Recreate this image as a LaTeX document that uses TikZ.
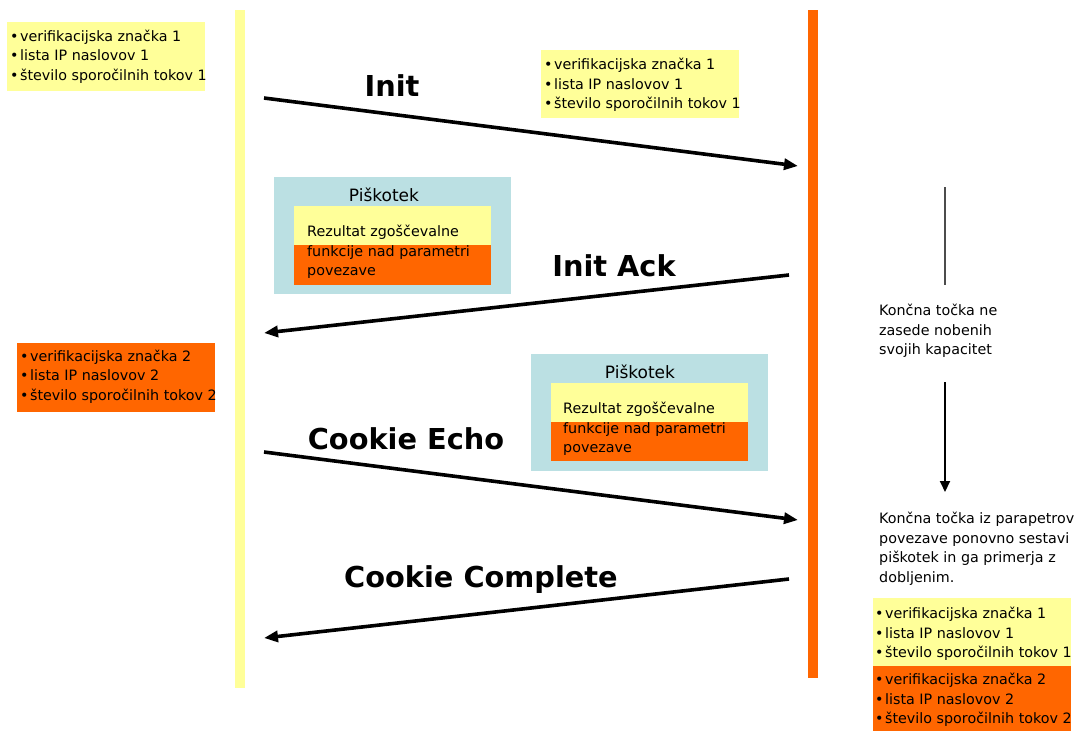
\documentclass[tikz,border=0pt]{standalone}
\usepackage{fontspec}
\setmainfont{DejaVu Sans}
\usetikzlibrary{arrows.meta}
\definecolor{paleyellow}{HTML}{FFFF99}
\definecolor{signalorange}{HTML}{FF6600}
\definecolor{cookieblue}{HTML}{BBE0E3}
\newcommand{\itm}{•\hspace{1.5pt}}
\begin{document}
\begin{tikzpicture}[x=1pt,y=-1pt,
  panel/.style={inner sep=0pt, outer sep=0pt, anchor=north west},
  listtext/.style={inner sep=0pt, anchor=north west, align=left,
    font=\fontsize{14.3}{19.5}\selectfont},
  msg/.style={line width=3.6pt, -{Triangle[length=14pt,width=11pt]}},
  msglabel/.style={inner sep=0pt, font=\bfseries\fontsize{28.8}{32}\selectfont},
  cookietitle/.style={inner sep=0pt, font=\fontsize{17}{20}\selectfont},
  note/.style={inner sep=0pt, anchor=north west, align=left,
    font=\fontsize{14.3}{19.5}\selectfont}
]
\useasboundingbox (0,0) rectangle (1082,731);

% lifelines of the two endpoints
\node[panel, fill=paleyellow, minimum width=10pt, minimum height=678pt] (hostA) at (235,10) {};
\node[panel, fill=signalorange, minimum width=10pt, minimum height=668pt] (hostB) at (808,10) {};

% parameter lists
\node[panel, fill=paleyellow, minimum width=198pt, minimum height=69pt] (listA1) at (7,22) {};
\node[listtext] (listA1t) at (10,29.5) {\itm verifikacijska značka 1\\\itm lista IP naslovov 1\\\itm število sporočilnih tokov 1};

\node[panel, fill=paleyellow, minimum width=198pt, minimum height=68pt] (listB1) at (541,50) {};
\node[listtext] (listB1t) at (544,58) {\itm verifikacijska značka 1\\\itm lista IP naslovov 1\\\itm število sporočilnih tokov 1};

\node[panel, fill=signalorange, minimum width=198pt, minimum height=69pt] (listA2) at (17,343) {};
\node[listtext] (listA2t) at (20,349.5) {\itm verifikacijska značka 2\\\itm lista IP naslovov 2\\\itm število sporočilnih tokov 2};

\node[panel, fill=paleyellow, minimum width=198pt, minimum height=68pt] (listC1) at (873,598) {};
\node[panel, fill=signalorange, minimum width=198pt, minimum height=65pt] (listC2) at (873,666) {};
\node[listtext] (listC1t) at (875,607) {\itm verifikacijska značka 1\\\itm lista IP naslovov 1\\\itm število sporočilnih tokov 1};
\node[listtext] (listC2t) at (875,673) {\itm verifikacijska značka 2\\\itm lista IP naslovov 2\\\itm število sporočilnih tokov 2};

% cookie from Init Ack
\node[panel, fill=cookieblue, minimum width=237pt, minimum height=117pt] (cookieA) at (274,177) {};
\node[cookietitle] (cookieAt) at (384,195) {Piškotek};
\node[panel, fill=paleyellow, minimum width=197pt, minimum height=39pt] (hashAy) at (294,206) {};
\node[panel, fill=signalorange, minimum width=197pt, minimum height=40pt] (hashAo) at (294,245) {};
\node[listtext] (hashAt) at (307,225) {Rezultat zgoščevalne\\funkcije nad parametri\\povezave};

% cookie from Cookie Echo
\node[panel, fill=cookieblue, minimum width=237pt, minimum height=117pt] (cookieB) at (531,354) {};
\node[cookietitle] (cookieBt) at (640,372) {Piškotek};
\node[panel, fill=paleyellow, minimum width=197pt, minimum height=39pt] (hashBy) at (551,383) {};
\node[panel, fill=signalorange, minimum width=197pt, minimum height=39pt] (hashBo) at (551,422) {};
\node[listtext] (hashBt) at (563,402) {Rezultat zgoščevalne\\funkcije nad parametri\\povezave};

% message exchange
\coordinate (initS) at (264,98);   \coordinate (initE) at (798,166);
\coordinate (ackS) at (789,275);   \coordinate (ackE) at (264,333);
\coordinate (echoS) at (264,452);  \coordinate (echoE) at (798,520);
\coordinate (compS) at (789,579);  \coordinate (compE) at (264,638);
\draw[msg] (initS) -- (initE);
\draw[msg] (ackS) -- (ackE);
\draw[msg] (echoS) -- (echoE);
\draw[msg] (compS) -- (compE);
\node[msglabel] (initL) at (392,86) {Init};
\node[msglabel] (ackL) at (614,266) {Init Ack};
\node[msglabel] (echoL) at (406,439) {Cookie Echo};
\node[msglabel] (compL) at (481,580) {Cookie Complete};

% server-side notes
\coordinate (stateT) at (945,187); \coordinate (stateB) at (945,285);
\draw[line width=1.5pt, draw=black!70] (stateT) -- (stateB);
\node[note] (noteA) at (879,304) {Končna točka ne\\zasede nobenih\\svojih kapacitet};
\coordinate (procT) at (945,382); \coordinate (procB) at (945,492);
\draw[line width=2pt, -{Triangle[length=11pt,width=10pt]}] (procT) -- (procB);
\node[note] (noteB) at (879,512) {Končna točka iz parapetrov\\povezave ponovno sestavi\\piškotek in ga primerja z\\dobljenim.};
\end{tikzpicture}
\end{document}
